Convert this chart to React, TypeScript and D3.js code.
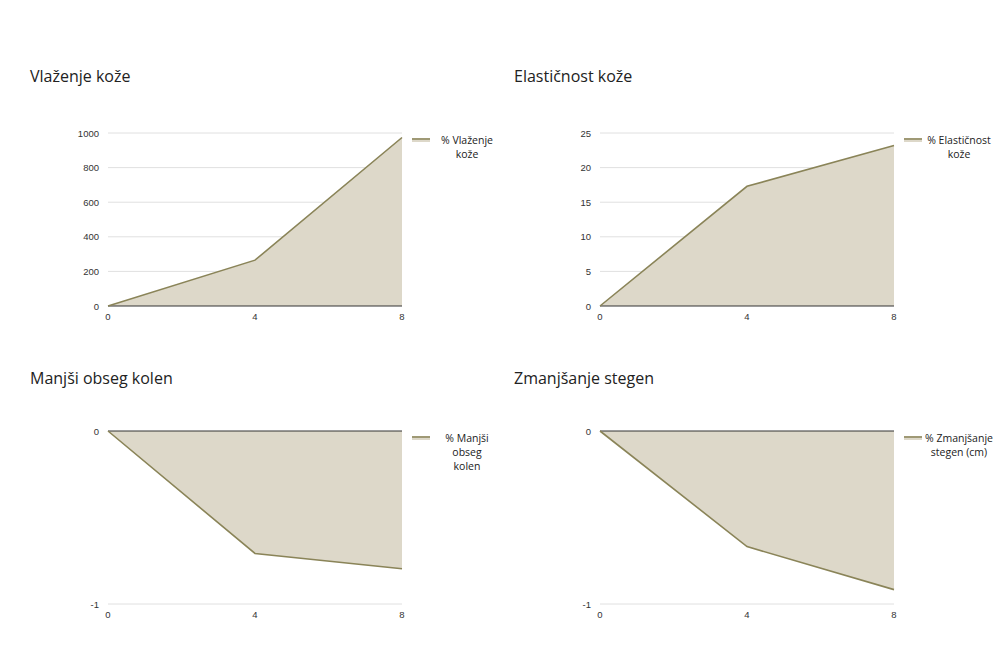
import React from "react";
import * as d3 from "d3";

const weeks = [0, 4, 8];
const xTicks = [0, 4, 8];

const titles = ["Vlaženje kože", "Elastičnost kože", "Manjši obseg kolen", "Zmanjšanje stegen"];
const legendLines = [
  ["% Vlaženje", "kože"],
  ["% Elastičnost", "kože"],
  ["% Manjši", "obseg", "kolen"],
  ["% Zmanjšanje", "stegen (cm)"],
];
const hydration = [0, 265, 974];
const elasticity = [0, 17.3, 23.2];
const knees = [0, -0.708, -0.796];
const thighs = [0, -0.668, -0.917];
const seriesList = [hydration, elasticity, knees, thighs];
const yDomains: [number, number][] = [[0, 1000], [0, 25], [-1, 0], [-1, 0]];
const yTickSets = [[0, 200, 400, 600, 800, 1000], [0, 5, 10, 15, 20, 25], [-1, 0], [-1, 0]];

const FILL = "#ddd8c9";
const LINE = "#8a8458";

function Panel({ i, ox, oy, tx, ty }: { i: number; ox: number; oy: number; tx: number; ty: number }) {
  const x = d3.scaleLinear().domain([0, 8]).range([ox, ox + 294]);
  const y = d3.scaleLinear().domain(yDomains[i]).range([oy + 173, oy]);
  const data = seriesList[i];
  const pts = weeks.map((w, k) => [w, data[k]] as [number, number]);
  const area = d3.area<[number, number]>().x((d) => x(d[0])).y0(y(0)).y1((d) => y(d[1]))(pts) || "";
  const line = d3.line<[number, number]>().x((d) => x(d[0])).y((d) => y(d[1]))(pts) || "";
  const ticks = yTickSets[i];
  const lx = x(8) + 10;
  return (
    <g>
      <text x={tx} y={ty} fontFamily="Open Sans" fontSize={16} fill="#222">{titles[i]}</text>
      {ticks.map((t) => (
        <g key={t}>
          {t !== 0 && <line x1={x(0)} x2={x(8)} y1={y(t)} y2={y(t)} stroke="#e0e0e0" strokeWidth={1} />}
          <text x={x(0) - 9} y={y(t) + 3.5} textAnchor="end" fontFamily="Liberation Sans, Arial" fontSize={9.5} fill="#333">{t}</text>
        </g>
      ))}
      <path d={area} fill={FILL} />
      <line x1={x(0)} x2={x(8)} y1={y(0)} y2={y(0)} stroke="#333" strokeWidth={1} />
      <path d={line} fill="none" stroke={LINE} strokeWidth={1.6} />
      {xTicks.map((t) => (
        <text key={t} x={x(t)} y={oy + 187} textAnchor="middle" fontFamily="Liberation Sans, Arial" fontSize={9.5} fill="#333">{t}</text>
      ))}
      <rect x={lx} y={oy + 5} width={18} height={4} fill={FILL} />
      <line x1={lx} x2={lx + 18} y1={oy + 6} y2={oy + 6} stroke={LINE} strokeWidth={1.5} />
      {legendLines[i].map((s, k) => (
        <text key={k} x={lx + 55} y={oy + 11 + k * 14} textAnchor="middle" fontFamily="Open Sans" fontSize={10.5} fill="#222">{s}</text>
      ))}
    </g>
  );
}

export default function App() {
  return (
    <svg width={1000} height={667} style={{ position: "absolute", left: 0, top: 0, background: "#fff" }}>
      <rect width={1000} height={667} fill="#fff" />
      <Panel i={0} ox={108} oy={133} tx={30} ty={82} />
      <Panel i={1} ox={600} oy={133} tx={514} ty={82} />
      <Panel i={2} ox={108} oy={431} tx={30} ty={384} />
      <Panel i={3} ox={600} oy={431} tx={514} ty={384} />
    </svg>
  );
}
